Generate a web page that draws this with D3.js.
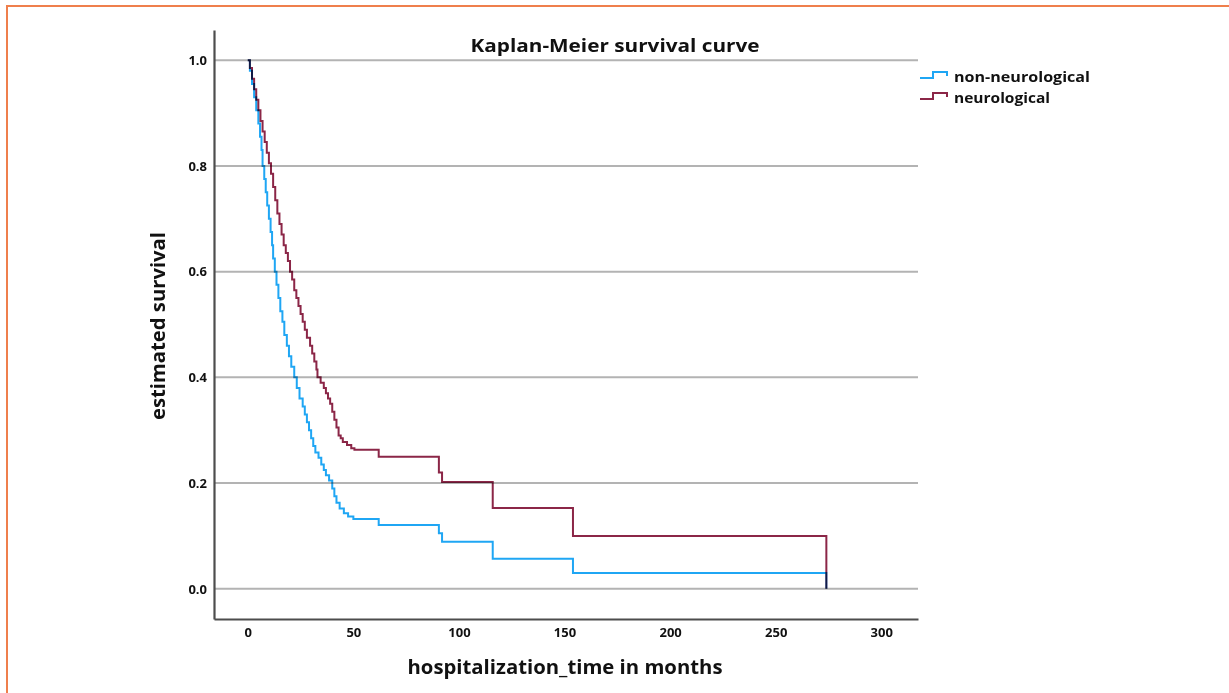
<!DOCTYPE html>
<html>
<head>
<meta charset="utf-8">
<script src="https://cdn.jsdelivr.net/npm/d3@7"></script>
<style>
  body { margin: 0; background: #fff; }
  svg { display: block; }
  text { font-family: "Open Sans", "DejaVu Sans", sans-serif; font-weight: 700; fill: #111; }
</style>
</head>
<body>
<svg id="chart" width="1229" height="693"></svg>
<script>
// donnees : temps (mois) et survie estimee a chaque marche
var groupes = ["non-neurological", "neurological"];

var tempsNonNeuro = [0, 1, 2, 3, 4, 5, 5.8, 6.5, 7, 7.8, 8.5, 9.2, 10, 10.8, 11.5, 12, 12.8, 13.6, 14.5, 15.4,
  16.4, 17.3, 18.5, 19.5, 20.6, 22, 23.2, 24.5, 26, 27, 28, 29, 30, 31, 32, 33.5, 34.8, 36, 37, 38.5,
  40, 41, 42, 43.5, 45.5, 47.5, 50, 62, 90.5, 92, 116, 154, 274];
var survieNonNeuro = [1, 0.98, 0.955, 0.93, 0.905, 0.88, 0.855, 0.83, 0.8, 0.775, 0.75, 0.725, 0.7, 0.675, 0.65, 0.625, 0.6, 0.575, 0.55, 0.525,
  0.505, 0.48, 0.46, 0.44, 0.42, 0.4, 0.38, 0.36, 0.345, 0.33, 0.315, 0.3, 0.285, 0.27, 0.258, 0.248, 0.235, 0.225, 0.215, 0.205,
  0.19, 0.175, 0.163, 0.152, 0.143, 0.137, 0.132, 0.121, 0.105, 0.089, 0.057, 0.03, 0];

var tempsNeuro = [0, 1, 2, 3, 4, 5, 6, 7, 8, 9, 10, 11, 12, 13, 14, 15, 16, 17, 18, 19, 20, 21, 22, 23, 24, 25, 26, 27, 28,
  29.5, 30.5, 31.5, 32.5, 33, 34.5, 36, 37, 38, 39, 40, 41, 42, 43, 44, 45, 47, 49, 50.5, 62, 90.5, 92, 116, 154, 274];
var survieNeuro = [1, 0.985, 0.965, 0.945, 0.925, 0.905, 0.885, 0.865, 0.845, 0.825, 0.805, 0.785, 0.76, 0.735, 0.71, 0.69, 0.67, 0.65, 0.635, 0.62, 0.6, 0.585, 0.565, 0.55, 0.535, 0.52, 0.505, 0.49, 0.475,
  0.46, 0.445, 0.43, 0.415, 0.4, 0.39, 0.38, 0.37, 0.36, 0.35, 0.335, 0.32, 0.305, 0.29, 0.285, 0.278, 0.272, 0.266, 0.263, 0.25, 0.22, 0.202, 0.153, 0.1, 0];

var ticksX = [0, 50, 100, 150, 200, 250, 300];
var ticksY = [0, 0.2, 0.4, 0.6, 0.8, 1.0];
var couleurs = ["#1fa6f4", "#8b2647"];

var svg = d3.select("#chart");

// cadre orange de la figure
svg.append("path")
  .attr("d", "M7,693 L7,6 L1229,6")
  .attr("fill", "none")
  .attr("stroke", "#ef7f4c")
  .attr("stroke-width", 2);

// echelles
var xScale = d3.scaleLinear().domain([-16, 317.4]).range([214, 918]);
var yScale = d3.scaleLinear().domain([-0.057, 1.057]).range([619, 30]);

// lignes de grille horizontales
svg.append("g").selectAll("line")
  .data(ticksY)
  .enter().append("line")
  .attr("x1", xScale(-16)).attr("x2", xScale(317.4))
  .attr("y1", d => yScale(d)).attr("y2", d => yScale(d))
  .attr("stroke", "#b3b3b3")
  .attr("stroke-width", 2);

// axes
var xAxis = g => g
  .attr("transform", `translate(0, ${yScale(-0.057)})`)
  .call(d3.axisBottom(xScale).tickValues(ticksX).tickSize(0).tickPadding(9).tickFormat(d3.format("d")));
var yAxis = g => g
  .attr("transform", `translate(${xScale(-16)}, 0)`)
  .call(d3.axisLeft(yScale).tickValues(ticksY).tickSize(0).tickPadding(7).tickFormat(d3.format(".1f")));

var gx = svg.append("g").call(xAxis);
var gy = svg.append("g").call(yAxis);
[gx, gy].forEach(function (g) {
  g.select(".domain").attr("stroke", "#4d4d4d").attr("stroke-width", 2.2);
  g.selectAll("text").style("font-size", "13px").style("font-family", "\"Open Sans\", sans-serif").style("font-weight", 700).attr("fill", "#222");
});

// courbes de survie (marches)
var ligne = d3.line()
  .x(d => xScale(d[0]))
  .y(d => yScale(d[1]))
  .curve(d3.curveStepAfter);

var series = [
  d3.zip(tempsNonNeuro, survieNonNeuro),
  d3.zip(tempsNeuro, survieNeuro)
];

svg.append("g").selectAll("path")
  .data(series)
  .enter().append("path")
  .attr("d", ligne)
  .attr("fill", "none")
  .attr("stroke", (d, i) => couleurs[i])
  .attr("stroke-width", 2)
  .style("mix-blend-mode", "multiply");

// titre
svg.append("text")
  .attr("x", 615).attr("y", 52)
  .attr("text-anchor", "middle")
  .style("font-size", "17px")
  .attr("textLength", 289).attr("lengthAdjust", "spacingAndGlyphs")
  .text("Kaplan-Meier survival curve");

// labels des axes
svg.append("text")
  .attr("x", 565).attr("y", 674)
  .attr("text-anchor", "middle")
  .style("font-size", "20px")
  .attr("textLength", 315).attr("lengthAdjust", "spacingAndGlyphs")
  .text("hospitalization_time in months");

svg.append("text")
  .attr("transform", "translate(165, 326) rotate(-90)")
  .attr("text-anchor", "middle")
  .style("font-size", "19px")
  .attr("textLength", 188).attr("lengthAdjust", "spacingAndGlyphs")
  .text("estimated survival");

// legende
var legende = svg.append("g").selectAll("g")
  .data(groupes)
  .enter().append("g")
  .attr("transform", (d, i) => `translate(920, ${71 + i * 21})`);

legende.append("path")
  .attr("d", "M0,7 L13,7 L13,1 L27,1 L27,5")
  .attr("fill", "none")
  .attr("stroke", (d, i) => couleurs[i])
  .attr("stroke-width", 2);

legende.append("text")
  .attr("x", 34).attr("y", 11)
  .style("font-size", "15px")
  .style("font-weight", 700)
  .attr("textLength", (d, i) => i == 0 ? 136 : 96)
  .attr("lengthAdjust", "spacingAndGlyphs")
  .text(d => d);
</script>
</body>
</html>
